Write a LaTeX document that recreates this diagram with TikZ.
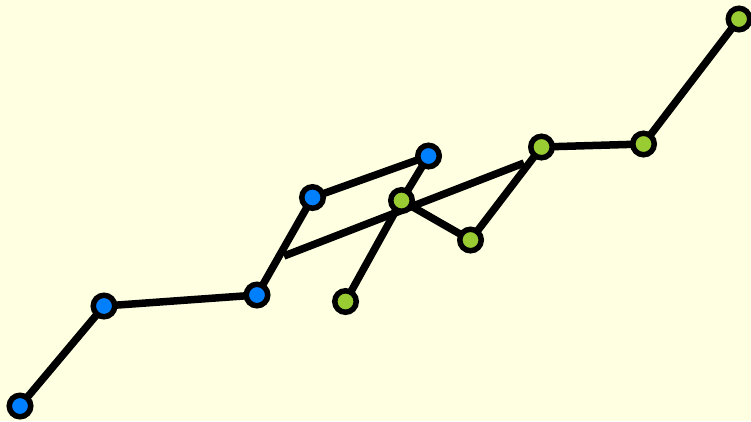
\documentclass[tikz,border=0pt]{standalone}
\usepackage{tikz}
\usetikzlibrary{positioning}
\definecolor{bgyellow}{RGB}{255,255,226}
\definecolor{dotblue}{RGB}{0,128,255}
\definecolor{dotgreen}{RGB}{153,204,51}
\tikzset{
  dot/.style={circle, draw=black, line width=5.5pt, inner sep=0pt, minimum size=21.5pt},
  bdot/.style={dot, fill=dotblue},
  gdot/.style={dot, fill=dotgreen},
  link/.style={line width=7.5pt, black}
}
\begin{document}
\begin{tikzpicture}[x=1pt, y=-1pt]
\fill[bgyellow] (0,0) rectangle (751,421);
\useasboundingbox (0,0) rectangle (751,421);
\coordinate (la) at (284,256);
\coordinate (lb) at (524,163);
\node at (20,406) (b1) {};
\node at (104,306) (b2) {};
\node at (257,295) (b3) {};
\node at (312.5,197.5) (b4) {};
\node at (428.5,156) (b5) {};
\node at (345.5,301.5) (g1) {};
\node at (401.5,200.5) (g2) {};
\node at (470.5,240) (g3) {};
\node at (541.5,147) (g4) {};
\node at (643.5,144) (g5) {};
\node at (739,19) (g6) {};
\draw[link] (b1.center) -- (b2.center) -- (b3.center) -- (b4.center) -- (b5.center) -- (g2.center) -- (g1.center);
\draw[link] (g2.center) -- (g3.center) -- (g4.center) -- (g5.center) -- (g6.center);
\draw[link] (la) -- (lb);
\foreach \n in {b1,b2,b3,b4,b5} \node[bdot] at (\n) {};
\foreach \n in {g1,g2,g3,g4,g5,g6} \node[gdot] at (\n) {};
\end{tikzpicture}
\end{document}
